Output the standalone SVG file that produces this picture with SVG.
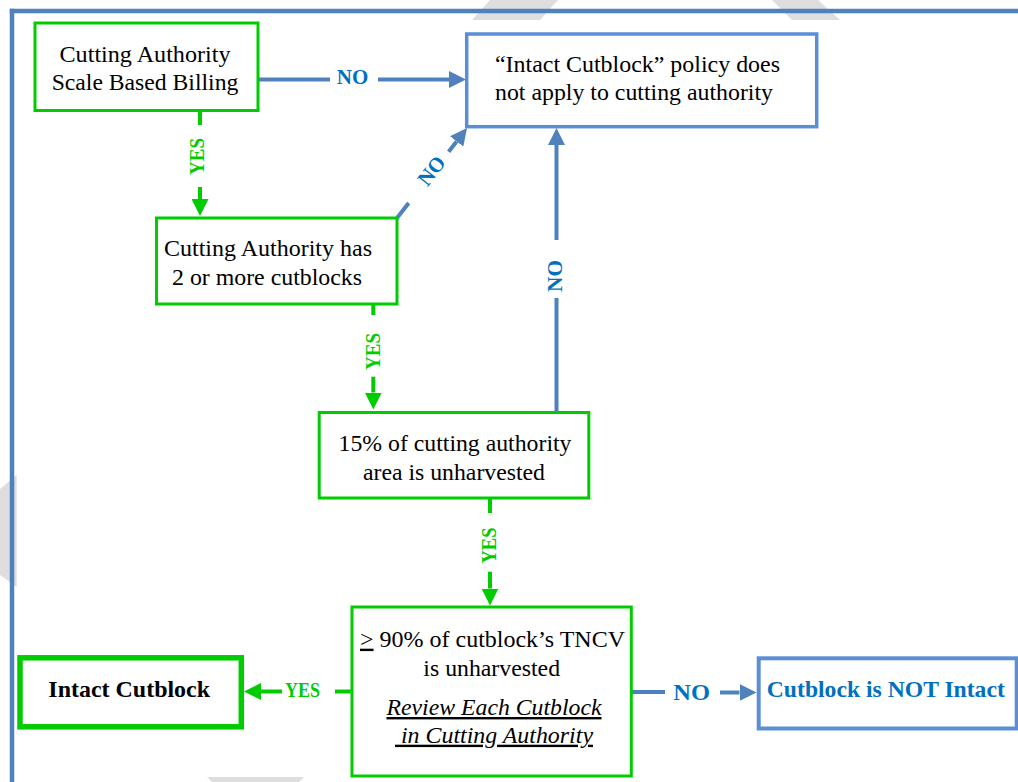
<svg xmlns="http://www.w3.org/2000/svg" width="1018" height="782" viewBox="0 0 1018 782">
<style>
text{font-family:'Liberation Serif',serif !important}
.gbox{fill:#fff;stroke:#00cc00;stroke-width:3}
.bbox{fill:#fff;stroke:#5b8fd5;stroke-width:3.5}
.gl{stroke:#00cc00;stroke-width:4;fill:none}
.blu{stroke:#4f81bd;stroke-width:4;fill:none}
.wm{fill:#dedede}
</style>
<defs>
<marker id="ag" viewBox="0 0 17 17" refX="0" refY="8.5" markerWidth="17" markerHeight="17" markerUnits="userSpaceOnUse" orient="auto"><path d="M0,0 L17,8.5 L0,17 z" fill="#00cc00"/></marker>
<marker id="ab" viewBox="0 0 17 17" refX="0" refY="8.5" markerWidth="17" markerHeight="17" markerUnits="userSpaceOnUse" orient="auto"><path d="M0,0 L17,8.5 L0,17 z" fill="#4f81bd"/></marker>
</defs>
<rect x="0" y="0" width="1018" height="782" fill="#fff"/>
<g id="watermark">
<polygon class="wm" points="490,0 558,0 540,20 472,20"/>
<polygon class="wm" points="772,0 818,0 840,20 792,20"/>
<polygon class="wm" points="0,489 16.7,475 16.7,587 0,575"/>
<polygon class="wm" points="207,777 304,777 299,782 212,782"/>
</g>
<g id="frame" stroke="#4f81bd" stroke-width="4.5" fill="none">
<line x1="9.8" y1="11" x2="1018" y2="11"/>
<line x1="12" y1="8.8" x2="12" y2="782"/>
</g>
<g id="connectors">
<line class="blu" x1="258" y1="79.5" x2="330" y2="79.5"/>
<line class="blu" x1="378" y1="79.5" x2="449" y2="79.5" marker-end="url(#ab)"/>
<text font-family="Liberation Serif" style="font-family:'Liberation Serif',serif !important;font-weight:bold;font-size:22px;fill:#0070c0" x="352.5" y="84" text-anchor="middle" textLength="31.5" lengthAdjust="spacingAndGlyphs">NO</text>

<line class="gl" x1="200" y1="110.5" x2="200" y2="125"/>
<line class="gl" x1="200" y1="187" x2="200" y2="199" marker-end="url(#ag)"/>
<text font-family="Liberation Serif" style="font-family:'Liberation Serif',serif !important;font-weight:bold;font-size:21px;fill:#00cc00" transform="translate(204,156.5) rotate(-90)" text-anchor="middle" textLength="37" lengthAdjust="spacingAndGlyphs">YES</text>

<line class="blu" x1="397" y1="218" x2="408.7" y2="203"/>
<line class="blu" x1="448.6" y1="151.7" x2="456.6" y2="141.4" marker-end="url(#ab)"/>
<text font-family="Liberation Serif" style="font-family:'Liberation Serif',serif !important;font-weight:bold;font-size:21px;fill:#0070c0" transform="translate(437,175) rotate(-52)" text-anchor="middle" textLength="31" lengthAdjust="spacingAndGlyphs">NO</text>

<line class="gl" x1="373.3" y1="304" x2="373.3" y2="315"/>
<line class="gl" x1="373.3" y1="376.7" x2="373.3" y2="392.5" marker-end="url(#ag)"/>
<text font-family="Liberation Serif" style="font-family:'Liberation Serif',serif !important;font-weight:bold;font-size:21px;fill:#00cc00" transform="translate(380,351.5) rotate(-90)" text-anchor="middle" textLength="37" lengthAdjust="spacingAndGlyphs">YES</text>

<line class="blu" x1="556.5" y1="411" x2="556.5" y2="298"/>
<line class="blu" x1="556.5" y1="240" x2="556.5" y2="145" marker-end="url(#ab)"/>
<text font-family="Liberation Serif" style="font-family:'Liberation Serif',serif !important;font-weight:bold;font-size:21px;fill:#0070c0" transform="translate(561.5,276) rotate(-90)" text-anchor="middle" textLength="32" lengthAdjust="spacingAndGlyphs">NO</text>

<line class="gl" x1="490" y1="498" x2="490" y2="513"/>
<line class="gl" x1="490" y1="571.7" x2="490" y2="588.5" marker-end="url(#ag)"/>
<text font-family="Liberation Serif" style="font-family:'Liberation Serif',serif !important;font-weight:bold;font-size:21px;fill:#00cc00" transform="translate(496,545.5) rotate(-90)" text-anchor="middle" textLength="36" lengthAdjust="spacingAndGlyphs">YES</text>

<line class="gl" x1="352" y1="691.5" x2="335" y2="691.5"/>
<line class="gl" x1="282" y1="691.5" x2="261" y2="691.5" marker-end="url(#ag)"/>
<text font-family="Liberation Serif" style="font-family:'Liberation Serif',serif !important;font-weight:bold;font-size:20px;fill:#00cc00" x="302.5" y="697" text-anchor="middle" textLength="35" lengthAdjust="spacingAndGlyphs">YES</text>

<line class="blu" x1="631" y1="692" x2="665" y2="692"/>
<line class="blu" x1="720" y1="692.5" x2="739.5" y2="692.5" marker-end="url(#ab)"/>
<text font-family="Liberation Serif" style="font-family:'Liberation Serif',serif !important;font-weight:bold;font-size:24px;fill:#0070c0" x="691.7" y="700" text-anchor="middle" textLength="36.7" lengthAdjust="spacingAndGlyphs">NO</text>
</g>
<g id="n1">
<rect class="gbox" x="35" y="23" width="223" height="87.5"/>
<text font-family="Liberation Serif" style="font-family:'Liberation Serif',serif !important;font-size:24px;fill:#000" x="145" y="62" text-anchor="middle" textLength="171" lengthAdjust="spacingAndGlyphs">Cutting Authority</text>
<text font-family="Liberation Serif" style="font-family:'Liberation Serif',serif !important;font-size:24px;fill:#000" x="145" y="90" text-anchor="middle" textLength="186.7" lengthAdjust="spacingAndGlyphs">Scale Based Billing</text>
</g>
<g id="n2">
<rect class="bbox" x="466.7" y="34" width="350" height="92.7"/>
<text font-family="Liberation Serif" style="font-family:'Liberation Serif',serif !important;font-size:24px;fill:#000" x="495" y="71.5" textLength="285" lengthAdjust="spacingAndGlyphs">“Intact Cutblock” policy does</text>
<text font-family="Liberation Serif" style="font-family:'Liberation Serif',serif !important;font-size:24px;fill:#000" x="495" y="99.5" textLength="278" lengthAdjust="spacingAndGlyphs">not apply to cutting authority</text>
</g>
<g id="n3">
<rect class="gbox" x="156.5" y="218" width="240.5" height="86"/>
<text font-family="Liberation Serif" style="font-family:'Liberation Serif',serif !important;font-size:24px;fill:#000" x="268" y="256" text-anchor="middle" textLength="208" lengthAdjust="spacingAndGlyphs">Cutting Authority has</text>
<text font-family="Liberation Serif" style="font-family:'Liberation Serif',serif !important;font-size:24px;fill:#000" x="267" y="285" text-anchor="middle" textLength="190" lengthAdjust="spacingAndGlyphs">2 or more cutblocks</text>
</g>
<g id="n4">
<rect class="gbox" x="319.2" y="412.5" width="269.6" height="85.5"/>
<text font-family="Liberation Serif" style="font-family:'Liberation Serif',serif !important;font-size:24px;fill:#000" x="455" y="450.5" text-anchor="middle" textLength="233" lengthAdjust="spacingAndGlyphs">15% of cutting authority</text>
<text font-family="Liberation Serif" style="font-family:'Liberation Serif',serif !important;font-size:24px;fill:#000" x="454" y="480" text-anchor="middle" textLength="182" lengthAdjust="spacingAndGlyphs">area is unharvested</text>
</g>
<g id="n5">
<rect class="gbox" x="352" y="607" width="279.3" height="169"/>
<text font-family="Liberation Serif" style="font-family:'Liberation Serif',serif !important;font-size:24px;fill:#000" x="492.5" y="646.7" text-anchor="middle" textLength="265" lengthAdjust="spacingAndGlyphs"><tspan text-decoration="underline">&gt;</tspan> 90% of cutblock’s TNCV</text>
<text font-family="Liberation Serif" style="font-family:'Liberation Serif',serif !important;font-size:24px;fill:#000" x="491.7" y="675.7" text-anchor="middle" textLength="136.7" lengthAdjust="spacingAndGlyphs">is unharvested</text>
<text font-family="Liberation Serif" style="font-family:'Liberation Serif',serif !important;font-size:24px;font-style:italic;fill:#000;text-decoration:underline" x="494" y="715" text-anchor="middle" textLength="215" lengthAdjust="spacingAndGlyphs">Review Each Cutblock</text>
<text font-family="Liberation Serif" style="font-family:'Liberation Serif',serif !important;font-size:24px;font-style:italic;fill:#000;text-decoration:underline;white-space:pre" x="494" y="742.7" text-anchor="middle" xml:space="preserve" textLength="198" lengthAdjust="spacingAndGlyphs"> in Cutting Authority</text>
</g>
<g id="n6">
<rect x="20" y="657.8" width="221.3" height="69" fill="#fff" stroke="#00cc00" stroke-width="5.5"/>
<text font-family="Liberation Serif" style="font-family:'Liberation Serif',serif !important;font-size:24px;font-weight:bold;fill:#000" x="129.2" y="696.7" text-anchor="middle" textLength="161.7" lengthAdjust="spacingAndGlyphs">Intact Cutblock</text>
</g>
<g id="n7">
<rect x="758.7" y="658.3" width="258" height="70.2" fill="#fff" stroke="#5b8fd5" stroke-width="4"/>
<text font-family="Liberation Serif" style="font-family:'Liberation Serif',serif !important;font-size:24px;font-weight:bold;fill:#0070c0" x="885.8" y="697.3" text-anchor="middle" textLength="238" lengthAdjust="spacingAndGlyphs">Cutblock is NOT Intact</text>
</g>
</svg>
